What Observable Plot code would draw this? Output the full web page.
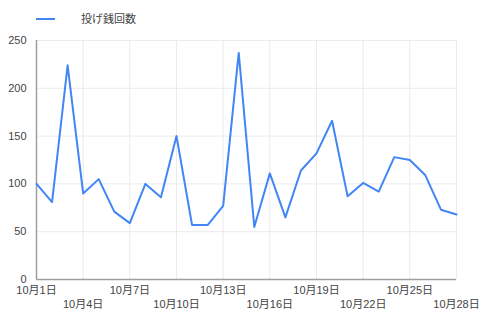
<!DOCTYPE html>
<html>
<head>
<meta charset="utf-8">
<script src="https://cdn.jsdelivr.net/npm/d3@7"></script>
<script src="https://cdn.jsdelivr.net/npm/@observablehq/plot@0.6"></script>
<style>
  html, body { margin: 0; padding: 0; background: #fff; }
  #wrap { position: relative; width: 490px; height: 325px; font-family: Arial, "Liberation Sans", "Noto Sans CJK JP", sans-serif; }
  #legend { position: absolute; left: 0; top: 0; width: 490px; height: 30px; }
  #legend .swatch { position: absolute; left: 36px; top: 18px; width: 19px; height: 2px; background: #4285f4; }
  #legend .label { position: absolute; left: 81px; top: 12px; font-size: 11px; line-height: 14px; color: #444; }
  #chart { position: absolute; left: 0; top: 0; }
</style>
</head>
<body>
<div id="wrap">
  <div id="chart"></div>
  <div id="legend"><div class="swatch"></div><div class="label">投げ銭回数</div></div>
</div>
<script>
const seriesName = "投げ銭回数";
const days = [1,2,3,4,5,6,7,8,9,10,11,12,13,14,15,16,17,18,19,20,21,22,23,24,25,26,27,28];
const counts = [100,81,224,90,105,71,59,100,86,150,57,57,77,237,55,111,65,114,132,166,87,101,92,128,125,109,73,68];
const tickDaysRow1 = [1,7,13,19,25];
const tickDaysRow2 = [4,10,16,22,28];
const gridDays = [1,4,7,10,13,16,19,22,25,28];
const yTicks = [0,50,100,150,200,250];

const toDate = d => new Date(Date.UTC(2023, 9, d));
const data = days.map((d, i) => ({date: toDate(d), value: counts[i]}));
const fmt = d => `10月${d.getUTCDate()}日`;

const chart = Plot.plot({
  width: 490,
  height: 325,
  marginLeft: 36,
  marginRight: 34,
  marginTop: 40,
  marginBottom: 46,
  style: {fontFamily: 'Arial, "Liberation Sans", "Noto Sans CJK JP", sans-serif', fontSize: "11px", color: "#444", background: "#fff"},
  x: {type: "utc", domain: [toDate(1), toDate(28)]},
  y: {domain: [0, 250]},
  marks: [
    Plot.gridX(gridDays.map(toDate), {stroke: "#ebebeb", strokeOpacity: 1}),
    Plot.gridY(yTicks, {stroke: "#ebebeb", strokeOpacity: 1}),
    Plot.axisY(yTicks, {tickSize: 0, tickPadding: 10, fill: "#444", label: null}),
    Plot.axisX(tickDaysRow1.map(toDate), {tickSize: 0, tickPadding: 7, tickFormat: fmt, fill: "#444", label: null}),
    Plot.axisX(tickDaysRow2.map(toDate), {tickSize: 0, tickPadding: 21, tickFormat: fmt, fill: "#444", label: null}),
    Plot.ruleY([0], {stroke: "#9e9e9e", strokeWidth: 1.5}),
    Plot.ruleX([toDate(1)], {stroke: "#9e9e9e", strokeWidth: 1.5}),
    Plot.line(data, {x: "date", y: "value", stroke: "#4285f4", strokeWidth: 2})
  ]
});
document.getElementById("chart").appendChild(chart);
</script>
</body>
</html>
